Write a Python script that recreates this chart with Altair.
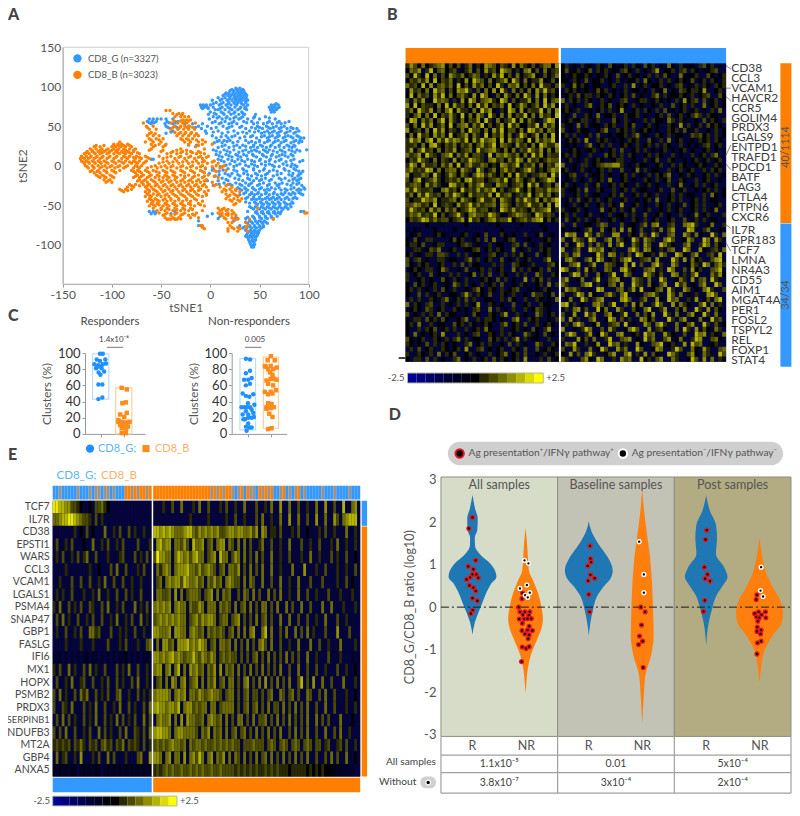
import altair as alt
import pandas as pd

FONT = "Lato"
BLUE, ORANGE = "#3399ff", "#ff8000"
PAL = ["#05053c", "#03032a", "#020216", "#000000", "#2a2a00", "#4a4a00", "#6b6b00", "#8f8f00", "#b5b500", "#e8e800"]
BAR = ["#000098", "#00007f", "#000068", "#000050", "#000038", "#000024", "#000012", "#000000",
       "#2a2a00", "#4a4a00", "#6b6b00", "#8f8f00", "#b5b500", "#dcdc00", "#ffff00"]

# ---------- A: tSNE, y value -> x values
G_rows = {98:[26,30],95:[20,24,28,31,34],92:[16,19,23,26,29,32,35],89:[13,18,21,25,28,31,34,37],86:[8,15,20,24,27,30,33,36],
83:[2,10,17,22,26,29,32,35,38],80:[6,13,19,24,28,31,36],77:[-10,-7,-4,0,9,16,21,27,34,38,62,65,69],74:[-9,-6,-3,3,12,18,25,31,36,60,63,66,70],
71:[5,8,15,22,28,37,61,64,67],68:[0,11,19,25,32,62,65],65:[-2,6,14,21,29,35,46],62:[3,9,17,26,33,45,56],
59:[-62,-58,-54,-50,-45,-38,-1,12,20,29,38,50,66],56:[-64,-59,-55,-44,-36,-33,5,15,24,34,42,60,70,80],53:[-60,-46,-38,-26,-18,-8,9,19,27,44,54,63,72],
50:[-45,-36,-22,-12,-3,13,22,32,48,57,67,75],47:[-41,-32,-9,1,17,36,46,53,61,70,78,84,88],44:[-38,-5,8,24,40,49,58,65,72,81,90],
41:[-45,-4,12,28,37,52,60,68,76,85],38:[2,16,25,43,55,63,70,79,88],35:[6,18,30,47,58,66,74,84,92,95],32:[9,14,20,36,50,60,69,77,87,91],
29:[4,12,23,39,46,55,64,72,82,90],26:[-22,-14,15,27,33,44,51,62,70,78,85],23:[8,19,30,41,48,57,66,75,83],20:[3,14,24,36,45,54,60,71,80,88,98],
17:[10,20,29,39,50,58,68,76,86],14:[6,16,26,34,43,53,63,73,82],11:[12,22,31,47,57,67,79],8:[-60,-58,8,18,28,38,51,61,72,85],
5:[14,25,35,45,56,66,77,91],2:[20,30,42,52,60,74,83],-1:[10,24,39,48,65,70,82,88],-4:[-5,3,18,33,44,55,75,85],-7:[9,27,37,50,60,68,80,90,94],
-10:[-1,15,22,34,46,58,72,84,92],-13:[5,20,30,42,52,64,83,89],-16:[12,25,38,47,56,70,76,86,92],-19:[-3,8,18,33,44,50,60,80,88],
-22:[14,26,36,42,54,66,73,84,90],-25:[3,22,32,39,48,58,68,82,93],-28:[28,35,43,52,62,70,85,95],-31:[32,38,46,55,60,72,78,88,92],
-34:[36,42,49,57,65,76,84,90],-37:[30,40,45,52,60,68,74,82,94],-40:[38,44,50,58,64,70,78,86],-43:[42,47,53,60,66,72,80],
-46:[36,45,51,57,63,69,75,83],-49:[48,54,60,66,71,78,81],-52:[40,46,52,58,64,70,76,82],-55:[44,50,56,62,68,74,79],
-58:[-62,-58,-55,-36,38,47,53,59,65,72,92,95],-61:[-60,-56,-40,2,48,54,60,66,71],-64:[-3,10,43,50,56,62,68],-67:[8,28,36,45,52,58,64],
-70:[-12,24,40,46,50,55],-73:[38,43,48,53,58],-76:[-12,-10,30,40,45,50,54],-79:[33,37,42,47,52],-82:[36,41,45,50],-85:[38,42,46,49],
-88:[37,41,44,48],-91:[38,42,46],-94:[39,43,46],-97:[40,44],-100:[41,45],-103:[42,44]}
G_rows2 = {96.5:[22,27,33],90.5:[15,23,30,36],84.5:[12,19,25,31,37],78.5:[3,11,18,25,32,67],72.5:[-8,-2,10,20,30,35,63,68],66.5:[4,13,24,33],60.5:[7,16,24,31,44,60],
54.5:[-62,-57,-42,-35,2,11,22,37,48,58,68,76],48.5:[-43,-34,-15,6,19,30,42,50,59,64,72,82],42.5:[-40,3,18,33,45,55,63,70,78,87],36.5:[11,22,35,41,52,60,68,76,82,90],
30.5:[7,17,28,42,50,58,66,75,85,93],24.5:[12,24,36,44,53,61,70,80,86],18.5:[6,17,33,42,47,56,64,73,83,91],12.5:[9,19,28,37,44,54,62,70,76,84],6.5:[11,22,32,42,50,60,70,82,94],
0.5:[16,27,36,45,56,63,78,86],-5.5:[2,13,24,34,44,54,64,76,87],-11.5:[9,18,28,38,48,56,68,80,90],-17.5:[16,29,40,52,62,72,84,90],-23.5:[9,20,30,40,50,60,70,78,88],
-29.5:[30,36,44,50,58,66,76,82,90,96],-35.5:[34,42,48,56,64,72,80,86,92],-41.5:[36,44,50,56,62,68,76,84,88],-47.5:[40,46,52,58,64,70,76,84],-53.5:[42,48,54,60,66,72,78],
-59.5:[46,52,58,64,69],-65.5:[26,38,44,50,56,62],-71.5:[36,42,47,52,56],-77.5:[35,40,45,50,54],-83.5:[39,44,48],-89.5:[36,40,44,47],-95.5:[42,45],-101.5:[43]}
B_rows = {70:[-45,-41],66:[-38,-32,-28],62:[-36,-30,-26,-22],58:[-28,-24,-20],54:[-68,-40,-33,-28,-24,-15],50:[-65,-58,-36,-30,-26,-21],
46:[-62,-55,-40,-33,-27,-22,-16],42:[-60,-36,-30,-25,-19],38:[-64,-58,-52,-34,-28,-22,-16,-12],34:[-62,-55,-48,-30,-24,-18],
30:[-92,-66,-58,-50,-26,-20,-12,-5],27:[-98,-94,-90,-84,-60,-52,-45,-22,-8,2],24:[-118,-112,-100,-96,-91,-86,-80,-58,-48,-15],
21:[-122,-116,-110,-104,-98,-93,-88,-82,-76,-60,-30,-6],18:[-125,-120,-114,-108,-102,-96,-90,-84,-78,-50,-38,-28,-20,-12],
15:[-128,-123,-117,-112,-105,-98,-92,-86,-80,-72,-44,-34,-24,-14,-6],12:[-131,-126,-121,-115,-109,-102,-95,-88,-82,-75,-66,-52,-40,-30,-20,-10,-2],
9:[-132,-128,-124,-118,-112,-105,-98,-90,-84,-76,-70,-62,-48,-36,-26,-16,-8],6:[-131,-126,-120,-114,-108,-100,-93,-86,-78,-72,-65,-44,-34,-24,-14,-6,4],
3:[-128,-123,-117,-111,-104,-96,-88,-80,-74,-68,-52,-42,-32,-22,-12,-3,8],0:[-127,-120,-114,-107,-100,-92,-84,-76,-70,-56,-46,-38,-28,-18,-8,6,14],
-3:[-124,-118,-112,-105,-97,-88,-78,-72,-64,-54,-44,-34,-24,-14,-5,10],-6:[-120,-114,-108,-100,-92,-80,-74,-66,-58,-48,-40,-30,-20,-10,4,16],
-9:[-118,-112,-105,-96,-76,-70,-62,-52,-44,-36,-26,-16,-6],-12:[-116,-110,-102,-74,-68,-60,-54,-46,-38,-30,-22,-12,-2],
-15:[-112,-106,-98,-78,-72,-64,-56,-48,-42,-34,-26,-18,-8,8],-18:[-108,-102,-72,-66,-60,-52,-44,-36,-28,-20,-12,-4],
-21:[-106,-100,-70,-64,-56,-50,-42,-34,-26,-18,-10,2],-24:[-82,-76,-68,-62,-54,-46,-38,-30,-22,-14,-6,6,18],
-27:[-84,-78,-66,-60,-52,-44,-36,-28,-20,-12,-4,10,22],-30:[-92,-86,-80,-64,-58,-50,-42,-34,-26,-18,-10,14,20,26],
-33:[-88,-66,-62,-54,-48,-40,-32,-24,-16,-6,12,22,30],-36:[-64,-58,-52,-44,-38,-30,-22,-14,-4,16,24],-39:[-66,-60,-50,-42,-34,-26,-18,-8,18,28],
-42:[-62,-56,-46,-40,-32,-24,-16,16,24,32],-45:[-64,-58,-52,-44,-36,-28,-20,-8,22,30],-48:[-60,-54,-46,-38,-30,-22,-12,26],
-51:[-62,-56,-48,-42,-34,-26,-16,-6],-54:[-58,-50,-44,-36,-28,-20,8,14,48],-57:[-54,-46,-38,-30,-22,-8,10,16,22],
-60:[-52,-44,-34,-26,-14,8,12,18,24,96,98],-63:[-48,-40,-30,-22,-16,12,18,26],-66:[-46,-38,-32,-20,-12,14,22],-68:[-44,-40,-36,-34,26,40,64],
-72:[18,22,36],-76:[-10,-8,20,38],-80:[-6,18,24,30],-83:[18,28,38]}
B_rows2 = {64.5:[-34,-29],56.5:[-37,-30,-26,-22],48.5:[-64,-38,-31,-24,-18],40.5:[-62,-56,-32,-26,-20,-14],32.5:[-60,-52,-28,-22,-14,-8],25.5:[-116,-108,-98,-93,-88,-82,-56,-46,-12],
19.5:[-120,-112,-106,-100,-95,-86,-78,-62,-48,-34,-24],16.5:[-126,-118,-110,-103,-94,-88,-82,-74,-40,-30,-18,-10],10.5:[-130,-122,-116,-110,-103,-96,-86,-78,-72,-64,-44,-32,-22,-12,-4],
4.5:[-129,-124,-118,-112,-106,-98,-90,-82,-76,-66,-48,-38,-28,-18,-8,2],-1.5:[-125,-119,-110,-102,-94,-86,-74,-60,-50,-40,-30,-20,-10,2,12],-7.5:[-122,-115,-106,-98,-78,-72,-64,-55,-46,-38,-28,-18,-8,6],
-13.5:[-114,-108,-100,-76,-70,-62,-52,-44,-36,-26,-16,-6,4],-19.5:[-104,-74,-68,-58,-48,-40,-30,-22,-14,-6],-25.5:[-80,-72,-64,-56,-48,-40,-32,-24,-16,-8,4,16],
-31.5:[-90,-84,-62,-56,-46,-38,-28,-20,-12,-2,16,26],-37.5:[-62,-54,-46,-36,-28,-20,-12,-4,20,26],-43.5:[-60,-54,-48,-40,-32,-24,-14,20,28],-49.5:[-58,-52,-44,-36,-28,-20,-10,24],
-55.5:[-50,-42,-34,-26,-18,12,18],-61.5:[-46,-36,-28,-18,10,16,22],-67.5:[-42,-36,-30,16,24,28],-78.5:[-8,22,28,36]}

# ---------- B heatmap
B_genes = ["CD38","CCL3","VCAM1","HAVCR2","CCR5","GOLIM4","PRDX3","LGALS9","ENTPD1","TRAFD1","PDCD1","BATF","LAG3","CTLA4","PTPN6","CXCR6",
           "IL7R","GPR183","TCF7","LMNA","NR4A3","CD55","AIM1","MGAT4A","PER1","FOSL2","TSPYL2","REL","FOXP1","STAT4"]
B_left = [
"475163456735351461437652541736425146637","365704815634503461527453865142673516245","518428360517546346514274835162457315246","354647183546142738651624573851624473152",
"645283715646283517463528416573526184425","174536285615376840516273840615263748452","382645174826356417286305174263850716243","506471385650417386256743861524473618256",
"728354416283745162847354618247534618472","463854725168374426185730428617354482617","435726183547428163750842617354826174538","287164635827416354728416345827164305872",
"536284714638256716483524718463254817463","724516384725416385526174835526187463652","163845274618345726418354726148534726183","485726837485764837485672837465283746582",
"445163784354615463574582654174536286447","471584536254734561845674263605485471636","645738541568264735540816575463618472544","254854163540725486541674536486174534655",
"486174452647381574465342764581546263547","574548716356627540851463574524685143576","734465184247536415874642537384514466284","516824574345462784551456483475346245871",
"456537464128745364684417552456384714526","748544512674538454746582514584362554756","462748545164864374554728456145483574624","534486572445617543584462754164854736468",
"557645381454274584645561764354584462718","485452746164634587455241864745436456824","465745483514584267554864314576542864541","354587464552457184534674558245646783514",
"000003000100000300000103000003000031000","103100030000300100001000300010001003000","031400034310003401305000430300400350130","305304400003534003405160034500130003410",
"344350034400034540300403300450503041300","004403546003400334503404300603040043400","340304405540040403300453040405300503400","504503004403300460403400503040340004700",
"530434003400405043300040400543304000453","034304403640030500340403400604043340503","403400503004040036040500430040400640043","400340300530430400034305040300704350400",
"305340340030640403040340500304300340604","340403040530400304630430403450030304300","300504034003304740430500430400306440350","040400430460340504003300405300400430306",
"604304500403040403700430300500340043300","034305403400430304500604030400403540300","503040406043300305300430470040300640340","304405340530034600404430300570043400304",
"340600403300534043034300460340500403430","300404350340400403406300400340305304700","306030340700040304500430404300640305030","530340043040460403300534040470403300400",
"430305040430300460340400305040300640043","040503400430340700450303400430500503430","400430406043500340300403460340500304034","304405040300460304034050430340700040503"]
B_right = [
"340304130430531340431534030630413304534010","351340350434031453040304703340450430134500","303433430314305034130340405300613340053034","330430503340304103340630140403431503404314",
"403634303300340040703403340304503140430434","043430303534030140330304136030543443700340","034053440431430340503014604133430403450053","604340430140300450134403430304073450503403",
"140300460143503430403003040050340400603403","343040130340403700340430405130340340304060","030500430603340043340300340503403464043300","034134403400053040300404331640430030514304",
"413060413304340043500340300430704034053430","503043300346004340403430300434053140030403","340400340500303340460300430403300545340403","034340700434030304340053040603401304340430",
"030300460340400343040340404300403030450340","003430134030340500340403034030340300340301","340431040005340404300340430040300403404600","034030403430134400300403500430030340340340",
"600304403456677403043300340140430134300430","340304030340400500360403300403403400404340","034500403340300340403040434600304300340403","030403040340600340300430403500430040340030",
"340300403500340430140340300403600340403400","403340600430040340403300340050340030340403","400340403300340500340430400340403300406303","034050340403400340030340600340400340403300",
"030403400340430700340300430403050340400340","403340300060340403500340030403400340403600","340400340030403340400500340300403060340004","050340403400340300430403400340050340403300",
"400500330465000503304606700450067840036004","303030460060350706305004060570008700460030","086700850640077004306408500560075063008406","600754086005706430850754006850037500860740",
"053086050640705800640750086430057004860530","700460086570340006850763040560086007304506","450670003850760405086304075008630570045080","067400570860340578004560730085070634005780",
"305680047006543070805006840075003640860574","860050734006500784300567040860050734005680","004870500630480075000864350076040580006473","570036004800567300754060085003640705608400",
"640005780403560700854063057008460305700850","075640030870005604708003560840075030684005","500486073005740680030567400850603040078500","036008504670030785004600730856004070350680",
"780403006750480050736004850070643005806040","040670500836007400530680047005360084070530","503700846005730480060537008406005730840600","607040057003860504007635000840570306008450",
"040685003700456080300750684006035700840503","700304860050740036850070453006084070530640","058600470385006700340856007430050086704306","400073506004800567030846005703600487005630",
"065800403700856040073005680340070856003400","500740060385007460085003760048500630740056","307050684003570068040705300864005730640085","640005730860040756008340570064003850706040"]

# ---------- E heatmap
E_genes = ["TCF7","IL7R","CD38","EPSTI1","WARS","CCL3","VCAM1","LGALS1","PSMA4","SNAP47","GBP1","FASLG","IFI6","MX1","HOPX","PSMB2","PRDX3","SERPINB1","NDUFB3","MT2A","GBP4","ANXA5"]
E_sizes = [10.5] * 17 + [9.3] + [10.5] * 4
E_left = [
"998877554300305564300000000000000","667889987655405040000000000000000","000000040305030006004050050400400","050040500030060040500405000050004",
"040500405046005000400045000504050","000040000000400300050600500040500","004000500500500406005005004004000","040400500040040600400500504005000",
"406005040500540050600405000604050","050604005004050050040600405006040","040050040500664500050040400500400","000040000400040000500040500040056",
"111010101012011010101011201010110","405006040050604005000504060050040","050040600450050040500504005060040","506040050646005040500560040050404",
"500540600050406005004060050400506","050605040050406005040605040500605","505060050040500605040050600540506","454545054640545056450546054540504",
"060450040700040500605000400056007","212121220121212201212121212121212"]
E_right = [
"000400500600040600500040500400600050040600700600500400600700500800670",
"000000000000400000400000400500400050600400600700600500700600750678880",
"887878766678865767676755677677667570760440500040500300040500400060040",
"078677066575086670560677065060605004600500400600050040050004060040040",
"597766068767578660567086605760605060500600400500040060040005040050030",
"064676067778665756765056066570506050600600400060007000400500040040050",
"056067677587667560657560676550606500600500600400600050005000040050300",
"066556070605666505670606560050650605006050600400600500400050004000400",
"676767067660655760666065650605606050660506006050060050006006000400040",
"567676767660567576776056605670505060560500600600500500400600050040000",
"776667077660676560656565056060606700680600506006050604000500070005000",
"060775607778676876056066560605060506750600500400600060050040006000040",
"776767867656686576576056565505050560506050506050500600400050004000101",
"677067068060767560657070656060506050605050600500600500500400050040030",
"056060760670567060657056066050670506070506050600580507006005000600040",
"677776067670665765676650566050560550505600650560500650050600500040030",
"787767768067756566066056666050560560506055060506050600500600500040040",
"067667060707665560676560605066050605560506050605050600605050006000300",
"788776067766665065706560605605605060506050600506050600500600506004000",
"565656766560656656556565656550555655505650565056505650550450045050040",
"776067066070675860670657060650605060560605060506050600500506050060030",
"454565655655656565565565555454545454454545444344444343434333212111100"]
E_top_left = "bbmbbbbbmbbbmbmmbmmbmbbboomomoomo"
E_top_right = "ooooooooooooooooooomomomoombmobommbomomobbmobmbmobmbbbbbmbbbmbbbbmbbb"
TOP_COL = {"b": BLUE, "o": ORANGE, "m": "#9c9288"}

# ---------- C clusters
C1_Gx = [.65,.77,.51,.88,.65,.41,.58,.77,.91,.51,.70,.59,.83,.67,.58,.75,.58,.75,.48,.72]
C1_Gy = [99,99,92,92,90,86,85,86,87,82,83,76,77,73,61,61,43,45,81,81]
C1_Bx = [1.59,1.81,1.62,1.77,1.52,1.81,1.70,1.45,1.57,1.70,1.81,1.93,1.52,1.70,1.86,1.59,1.78,1.59,1.77,1.45]
C1_By = [57,55,38,39,24,26,21,17,15,14,14,15,11,10,9,7,6,1,1,15]
C2_Gx = [.62,.80,.80,.62,.54,.72,.87,.80,.62,.48,.62,.77,.94,.71,.55,.43,.67,.80,.99,.87,.48,.72,.94,.58,.72,.87,.97,.51,.72,.62,.77,.87,.65,.62]
C2_Gy = [93,92,78,75,67,67,69,62,60,50,47,46,49,38,33,33,33,33,36,30,24,24,26,18,20,20,21,18,13,9,8,8,4,28]
C2_Bx = [1.71,1.57,1.88,1.45,1.70,1.96,1.59,1.81,1.67,1.78,1.52,1.70,1.84,1.96,1.59,1.81,1.45,1.70,1.93,1.59,1.78,1.59,1.74,1.52,1.70,1.84,1.64,1.78,1.74,1.59,1.52,1.48]
C2_By = [96,91,91,84,84,82,80,80,76,73,66,68,68,67,62,60,52,52,54,49,50,38,37,33,32,33,25,21,7,6,31,83]

# ---------- D violins: centre, colour, levels, half widths
V_BLUE, V_OR = "#1f77b4", "#ff7f0e"
VIOLINS = [
 (.27,  V_BLUE,[2.64,2.32,2.09,1.82,1.63,1.44,1.25,1.02,.83,.71,.56,.33,.10,-.13,-.36,-.65],[0,.022,.045,.042,.02,.022,.062,.154,.197,.205,.163,.118,.084,.05,.02,0]),
 (.725, V_OR,  [1.86,1.56,1.17,.87,.64,.33,.02,-.28,-.51,-.82,-1.13,-1.43,-1.74,-2.03],[0,.011,.02,.028,.062,.107,.135,.149,.135,.09,.045,.02,.008,0]),
 (1.267,V_BLUE,[2.02,1.79,1.48,1.17,.87,.67,.48,.25,-.05,-.36,-.68],[0,.022,.084,.163,.205,.185,.126,.07,.037,.014,0]),
 (1.725,V_OR,  [2.78,2.32,1.79,1.17,.56,-.05,-.67,-1.13,-1.59,-2.2,-2.74],[0,.014,.037,.067,.084,.093,.098,.076,.028,.011,0]),
 (2.273,V_BLUE,[2.63,2.25,1.94,1.63,1.25,.94,.71,.52,.25,-.05,-.36,-.9],[0,.034,.084,.093,.084,.154,.183,.146,.084,.05,.022,0]),
 (2.73, V_OR,  [1.63,1.25,.87,.48,.18,-.13,-.36,-.67,-1.05,-1.43,-1.78],[0,.02,.05,.112,.174,.202,.191,.112,.039,.014,0]),
]
D_red_x = [.27,.239,.298,.233,.278,.27,.303,.32,.25,.219,.244,.278,.298,.27,.312,.272,.256,
 .699,.694,.666,.677,.719,.761,.702,.753,.671,.713,.742,.775,.697,.756,.694,.742,.784,.719,.756,.747,.697,.73,.756,.691,
 1.278,1.281,1.287,1.258,1.281,1.317,1.261,1.267,1.275,1.713,1.75,1.719,1.702,1.728,1.694,1.733,
 2.278,2.267,2.258,2.284,2.264,2.306,2.261,2.25,
 2.708,2.702,2.722,2.781,2.688,2.747,2.705,2.728,2.784,2.716,2.711,2.744,2.708,2.739,2.744,2.713,2.708]
D_red_y = [2.11,1.85,1.10,.96,.89,.77,.77,.69,.70,.65,.51,.46,.38,.21,.15,-.07,-.15,
 .33,.20,0,-.11,-.11,-.11,-.18,-.19,-.28,-.28,-.27,-.27,-.38,-.45,-.55,-.54,-.55,-.63,-.65,-.74,-.94,-.97,-.93,-1.28,
 1.44,1.14,1.06,.97,.76,.68,.62,.30,-.11,0,-.11,-.42,-.68,-.80,-.88,-1.42,
 1.81,1.59,.94,.77,.67,.61,.16,-.10,
 .29,.18,-.11,-.11,-.15,-.18,-.23,-.25,-.25,-.33,-.47,-.54,-.57,-.63,-.80,-.84,-1.10]
D_white_x = [.716,.75,.736,.677,.761,.722,.744,1.699,1.739,1.739,2.744,2.739,2.761]
D_white_y = [1.10,1.03,.52,.44,.34,.28,.23,1.54,.77,.34,.94,.39,.25]
D_panels = ["All samples","Baseline samples","Post samples"]
D_bg = ["#d6dcc8","#c3c3b5","#b3ac82"]
D_p1 = ["1.1x10⁻⁵","0.01","5x10⁻⁴"]
D_p2 = ["3.8x10⁻⁷","3x10⁻⁴","2x10⁻⁴"]
D_groups = [.27,.733,1.267,1.727,2.273,2.733]
D_group_labels = ["R","NR","R","NR","R","NR"]

# ---------- helpers: page px -> view px (the right column and lower rows are eased in so all fits)
W, H = 784, 800
def PX(v):
    return v - 8 if v <= 380 else 372 + (v - 380) * (411 / 418)

def PY(v):
    return v - 8 if v <= 430 else 422 + (v - 430) * .979

def sX(dom, rng, axis=None, f="x"):
    return alt.X(f"{f}:Q", scale=alt.Scale(domain=dom, range=[PX(rng[0]), PX(rng[1])], nice=False, zero=False), axis=axis, title=None)

def sY(dom, rng, axis=None, f="y"):
    return alt.Y(f"{f}:Q", scale=alt.Scale(domain=dom, range=[PY(rng[0]), PY(rng[1])], nice=False, zero=False), axis=axis, title=None)

def label(t, x, y, size=11, color="#555555", align="left", angle=None, weight="normal"):
    kw = dict(align=align, baseline="middle", fontSize=size, font=FONT, color=color, fontWeight=weight)
    if angle is not None:
        kw["angle"] = angle
    return alt.Chart(pd.DataFrame({"t": [t]})).mark_text(**kw).encode(x=alt.value(PX(x)), y=alt.value(PY(y)), text="t:N")

def rects(df, X, Y, **mk):
    return alt.Chart(df).mark_rect(**mk).encode(x=X, x2=alt.X2("x2"), y=Y, y2=alt.Y2("y2"), color=alt.Color("c:N", scale=None))

def box(x, x2, y, y2, c):
    return pd.DataFrame({"x": x, "x2": x2, "y": y, "y2": y2, "c": c})

def heat(rows, x0, n, rh=1.0):
    recs = []
    for i, s in enumerate(rows):
        for j, ch in enumerate(s[:n]):
            recs.append({"x": x0 + j, "x2": x0 + j + 1, "y": i * rh, "y2": (i + 1) * rh, "c": PAL[int(ch)]})
    return pd.DataFrame(recs)

def colorbar(x0, x1, y0, y1):
    d = pd.DataFrame({"x": range(15), "x2": range(1, 16), "y": [0] * 15, "y2": [1] * 15, "c": BAR})
    X = sX([0, 15], [x0, x1]); Y = sY([0, 1], [y1, y0])
    fr = alt.Chart(box([0], [15], [0], [1], ["#000"])).mark_rect(fillOpacity=0, stroke="#b5b5a0", strokeWidth=1).encode(x=X, x2=alt.X2("x2"), y=Y, y2=alt.Y2("y2"))
    return alt.layer(rects(d, X, Y), fr)

def ax(orient, offset, **kw):
    base = dict(orient=orient, offset=offset, grid=False, labelFont=FONT, titleFont=FONT, labelColor="#555555", titleColor="#555555",
                domainColor="#999999", tickColor="#999999", labelExpr="''+datum.value", labelOverlap=False, labelFlush=False, titleFontWeight="normal")
    base.update(kw)
    return alt.Axis(**base)

def axes_only(dx, rx, dy, ry, xaxis, yaxis):
    d = pd.DataFrame({"x": [dx[0]], "y": [dy[0]]})
    return alt.Chart(d).mark_point(opacity=0).encode(x=sX(dx, rx, xaxis), y=sY(dy, ry, yaxis))

# ---------- panel A
def rows_df(*rows):
    return pd.DataFrame([{"x": x, "y": y} for r in rows for y, xs in r.items() for x in xs])

Ax = [62.7, 308.7]; Ay = [284, 47.3]; Adx = [-150, 100]; Ady = [-150, 150]
axesA = axes_only(Adx, Ax, Ady, Ay,
    ax("bottom", PY(284) - H, values=[-150, -100, -50, 0, 50, 100], labelFontSize=12, tickSize=3, title="tSNE1", titleFontSize=12, titlePadding=2),
    ax("left", -PX(62.7), values=[-100, -50, 0, 50, 100, 150], labelFontSize=12, tickSize=0, labelPadding=2, title="tSNE2", titleFontSize=12, titlePadding=6))
panelA = alt.layer(
    alt.Chart(box([-150], [100], [-150], [150], ["#000"])).mark_rect(fillOpacity=0, stroke="#d0d0d0").encode(
        x=sX(Adx, Ax), x2=alt.X2("x2"), y=sY(Ady, Ay), y2=alt.Y2("y2")),
    alt.Chart(rows_df(G_rows, G_rows2)).mark_circle(size=12, opacity=1, color=BLUE).encode(x=sX(Adx, Ax), y=sY(Ady, Ay)),
    alt.Chart(rows_df(B_rows, B_rows2)).mark_circle(size=12, opacity=1, color=ORANGE).encode(x=sX(Adx, Ax), y=sY(Ady, Ay)),
    alt.Chart(pd.DataFrame({"x": [-135, -135], "y": [136, 115], "c": [BLUE, ORANGE]})).mark_circle(size=70, opacity=1).encode(
        x=sX(Adx, Ax), y=sY(Ady, Ay), color=alt.Color("c:N", scale=None)),
)

# ---------- panel B
Bx = [406, 732]; By = [63.3, 361.7]; Bdx = [0, 81.5]; Bdy = [0, 30]
X_b, Y_b = sX(Bdx, Bx), sY(Bdy, By)
leaders = pd.DataFrame({"x": [81.4] * 7, "x2": [82.7] * 7,
                        "y": [.2, 2.5, 3.3, 9.3, 10.1, 16.2, 18.0], "y2": [.6, 2.5, 3.8, 8.2, 10.7, 16.6, 18.9]})
b_genes = pd.DataFrame({"g": B_genes, "y": [i + (.45 if i < 16 else .8) for i in range(30)], "x": [82.8] * 30})
panelB = alt.layer(
    rects(box([0], [81.5], [0], [30], [PAL[0]]), X_b, Y_b),
    rects(heat(B_left, 0, 39, .5), X_b, Y_b),
    rects(heat(B_right, 39.5, 42, .5), X_b, Y_b),
    rects(box([39], [39.5], [0], [30], ["#ffffff"]), X_b, Y_b),
    rects(box([0, 39.5], [38.9, 81.5], [-1.55, -1.55], [0, 0], [ORANGE, BLUE]), X_b, Y_b),
    alt.Chart(b_genes).mark_text(align="left", baseline="middle", fontSize=12, font=FONT, color="#3c3c3c").encode(x=X_b, y=Y_b, text="g:N"),
    alt.Chart(leaders).mark_rule(color="#555555", strokeWidth=.7).encode(x=X_b, x2=alt.X2("x2"), y=Y_b, y2=alt.Y2("y2")),
    rects(box([95.3, 95.3], [98.1, 98.1], [0, 16.1], [16.05, 30.5], [ORANGE, BLUE]), X_b, Y_b),
)

# ---------- panel C
def c_panel(rx, dom, gx, gy, bx, by, boxes, rule):
    top, bottom = 353, 434
    X, Y = sX(dom, rx), sY([0, 100], [bottom, top])
    ls = []
    for a, b, lo, hi, m, stroke in boxes:
        ls.append(alt.Chart(box([a], [b], [lo], [hi], [stroke])).mark_rect(fillOpacity=0, strokeWidth=1.2, stroke=stroke).encode(
            x=X, x2=alt.X2("x2"), y=Y, y2=alt.Y2("y2")))
        ls.append(alt.Chart(pd.DataFrame({"x": [a], "x2": [b], "y": [m]})).mark_rule(color=stroke, strokeWidth=1).encode(x=X, x2=alt.X2("x2"), y=Y))
    ls.append(alt.Chart(pd.DataFrame({"x": gx, "y": gy})).mark_circle(size=20, opacity=1, color="#1e90ff").encode(x=X, y=Y))
    ls.append(alt.Chart(pd.DataFrame({"x": bx, "y": by})).mark_square(size=20, opacity=1, color="#ff8c1a").encode(x=X, y=Y))
    ls.append(alt.Chart(pd.DataFrame({"x": [rule[0]], "x2": [rule[1]], "y": [107]})).mark_rule(color="#555555", strokeWidth=.8).encode(x=X, x2=alt.X2("x2"), y=Y))
    xa = ax("bottom", PY(bottom) - H, values=[.7, 1.7], labels=False, tickSize=3)
    ya = ax("left", -PX(rx[0]), values=[0, 20, 40, 60, 80, 100], labelFontSize=13, labelColor="#333333", tickSize=3,
            title="Clusters (%)", titleFontSize=12, titlePadding=4)
    return alt.layer(*ls), axes_only(dom, rx, [0, 100], [bottom, top], xa, ya)

LB, LO = "#bcdcf8", "#fbd0a0"
panelC1, axesC1 = c_panel([85, 145], [0, 2.6], C1_Gx, C1_Gy, C1_Bx, C1_By,
                  [(.33, 1.03, 43, 99, 85, LB), (1.33, 2.03, 0, 57, 15, LO)], (.95, 1.65))
panelC2, axesC2 = c_panel([231.7, 286.7], [0, 2.4], C2_Gx, C2_Gy, C2_Bx, C2_By,
                  [(.36, 1.04, 5, 93, 33, LB), (1.38, 2.04, 7, 95, 67, LO)], (.58, 1.3))

# ---------- panel E
Ex = [52.7, 360.2]; Ey = [502.3, 784]; Edx = [0, 102.5]; Edy = [0, 22]
X_e, Y_e = sX(Edx, Ex), sY(Edy, Ey)
top_l = pd.DataFrame({"x": range(33), "x2": range(1, 34), "y": [-1.2] * 33, "y2": [-.1] * 33, "c": [TOP_COL[k] for k in E_top_left]})
top_r = pd.DataFrame({"x": [33.5 + i for i in range(69)], "x2": [34.5 + i for i in range(69)], "y": [-1.2] * 69, "y2": [-.1] * 69, "c": [TOP_COL[k] for k in E_top_right]})
e_genes = pd.DataFrame({"g": E_genes, "y": [i + .5 for i in range(22)], "fs": E_sizes})
panelE = alt.layer(
    rects(box([0], [102.5], [0], [22], [PAL[0]]), X_e, Y_e),
    rects(heat(E_left, 0, 33), X_e, Y_e),
    rects(heat(E_right, 33.5, 69), X_e, Y_e),
    rects(box([33], [33.5], [0], [22], ["#ffffff"]), X_e, Y_e),
    rects(top_l, X_e, Y_e), rects(top_r, X_e, Y_e),
    rects(box([0, 33.5], [33, 102.5], [22.1, 22.1], [23.25, 23.25], [BLUE, ORANGE]), X_e, Y_e),
    rects(box([103, 103], [104.8, 104.8], [0, 2.05], [2, 22], [BLUE, ORANGE]), X_e, Y_e),
    alt.Chart(e_genes).mark_text(align="right", baseline="middle", font=FONT, color="#4a4a4a", dx=-3).encode(
        x=alt.value(PX(52.7)), y=Y_e, text="g:N", size=alt.Size("fs:Q", scale=None)),
)

# ---------- panel D
Dx = [442, 798]; Dy = [743, 478]; Ddx = [0, 3]; Ddy = [-3.04, 3.06]
X_d, Y_d = sX(Ddx, Dx), sY(Ddy, Dy)
axesD = axes_only(Ddx, Dx, Ddy, Dy, None,
    ax("left", -PX(442), values=[-3, -2, -1, 0, 1, 2, 3], labelFontSize=13, tickSize=0, domain=False, labelPadding=5,
       title="CD8_G/CD8_B ratio (log10)", titleFontSize=12.5, titlePadding=7))
d_layers = [alt.Chart(box([0, 1, 2], [1, 2, 3], [-3.04] * 3, [3.06] * 3, D_bg)).mark_rect(stroke="#8f8f80", strokeWidth=1).encode(
    x=X_d, x2=alt.X2("x2"), y=Y_d, y2=alt.Y2("y2"), color=alt.Color("c:N", scale=None))]
d_layers.append(alt.Chart(pd.DataFrame({"x": [.5, 1.5, 2.5], "t": D_panels, "yy": [2.86] * 3})).mark_text(
    fontSize=12.5, font=FONT, color="#555555").encode(x=X_d, y=sY(Ddy, Dy, None, "yy"), text="t:N"))
for cx, col, ys, hw in VIOLINS:
    d = pd.DataFrame({"y": ys, "x": [cx - w for w in hw], "x2": [cx + w for w in hw]})
    d_layers.append(alt.Chart(d).mark_area(orient="horizontal", interpolate="monotone", color=col, opacity=1).encode(y=Y_d, x=X_d, x2=alt.X2("x2")))
d_layers.append(alt.Chart(pd.DataFrame({"x": [0], "x2": [3], "y": [0]})).mark_rule(color="#1a1a1a", strokeWidth=1, strokeDash=[8, 3, 2, 3]).encode(x=X_d, x2=alt.X2("x2"), y=Y_d))
d_layers.append(alt.Chart(pd.DataFrame({"x": D_red_x, "y": D_red_y})).mark_point(filled=True, size=14, color="#000000", stroke="#e8141c", strokeWidth=1.4, opacity=1, fillOpacity=1).encode(x=X_d, y=Y_d))
d_layers.append(alt.Chart(pd.DataFrame({"x": D_white_x, "y": D_white_y})).mark_point(filled=True, size=14, color="#000000", stroke="#ffffff", strokeWidth=1.4, opacity=1, fillOpacity=1).encode(x=X_d, y=Y_d))
for yy in [762, 780, 801]:
    d_layers.append(alt.Chart(pd.DataFrame({"x": [0], "x2": [3]})).mark_rule(color="#a0a0a0", strokeWidth=1.2).encode(x=X_d, x2=alt.X2("x2"), y=alt.value(PY(yy))))
d_layers.append(alt.Chart(pd.DataFrame({"x": [0, 1, 2, 3]})).mark_rule(color="#a0a0a0", strokeWidth=1.2).encode(x=X_d, y=alt.value(PY(743)), y2=alt.value(PY(801))))
d_layers.append(alt.Chart(pd.DataFrame({"x": D_groups, "t": D_group_labels})).mark_text(fontSize=12.5, font=FONT, color="#555555").encode(x=X_d, y=alt.value(PY(752.5)), text="t:N"))
for vals, yy in [(D_p1, 771), (D_p2, 791)]:
    d_layers.append(alt.Chart(pd.DataFrame({"x": [.5, 1.5, 2.5], "t": vals})).mark_text(fontSize=10.5, font=FONT, color="#444444").encode(x=X_d, y=alt.value(PY(yy)), text="t:N"))
panelD = alt.layer(*d_layers)

# ---------- annotation
def pill(x0, x1, y0, y1, c, r):
    return alt.Chart(pd.DataFrame({"a": [1]})).mark_rect(color=c, cornerRadius=r).encode(
        x=alt.value(PX(x0)), x2=alt.value(PX(x1)), y=alt.value(PY(y0)), y2=alt.value(PY(y1)))

def chip(x, y, stroke, size=50, sw=2):
    return alt.Chart(pd.DataFrame({"a": [1]})).mark_point(filled=True, color="#000000", stroke=stroke, strokeWidth=sw, size=size, opacity=1, fillOpacity=1).encode(
        x=alt.value(PX(x)), y=alt.value(PY(y)))

def dot(mark, x, y, c, size):
    ch = alt.Chart(pd.DataFrame({"a": [1]}))
    m = ch.mark_circle(color=c, size=size, opacity=1) if mark == "c" else ch.mark_square(color=c, size=size, opacity=1)
    return m.encode(x=alt.value(PX(x)), y=alt.value(PY(y)))

LET = dict(size=16, color="#444444", weight=900)
notes = [
    label("A", 8, 15, **LET), label("B", 387, 15, **LET), label("C", 8, 316, **LET), label("D", 389, 415, **LET), label("E", 8, 456, **LET),
    label("CD8_G (n=3327)", 88, 58.5, 9.5), label("CD8_B (n=3023)", 88, 75, 9.5),
    label("40/1114", 793, 147, 10.5, "#555555", "center", 270), label("34/34", 793, 295, 10.5, "#555555", "center", 270),
    label("-2.5", 405, 378, 9.5, "#555555", "right"), label("+2.5", 549, 378, 9.5),
    label("Responders", 110, 322, 11.5, "#4a4a4a", "center"), label("Non-responders", 249, 322, 11.5, "#4a4a4a", "center"),
    label("1.4x10⁻⁶", 114, 340, 8, "#444444", "center"), label("0.005", 255, 340, 8, "#444444", "center"),
    dot("c", 90, 449, "#1e90ff", 70), label("CD8_G;", 98, 449, 11, "#5cb6ee"),
    dot("s", 146, 449, "#ff8c1a", 50), label("CD8_B", 155, 449, 11, "#f9b26c"),
    label("CD8_G;", 56.5, 477, 11.5, "#5cb6ee"), label("CD8_B", 101, 477, 11.5, "#f9b26c"),
    label("-2.5", 50, 809, 9.5, "#555555", "right"), label("+2.5", 180, 809, 9.5),
    pill(449, 790, 442, 466, "#cfcfcf", 12), chip(461, 454, "#e8141c", 70, 2),
    label("Ag presentation⁺/IFNγ pathway⁺", 470, 454, 10.2), chip(627, 454, "#ffffff", 70, 2),
    label("Ag presentation⁻/IFNγ pathway⁻", 636, 454, 10.2),
    label("All samples", 437, 769, 10.2, "#444444", "right"), label("Without", 417, 790, 10.2, "#444444", "right"),
    pill(421, 437, 784, 796, "#cfcfcf", 6), chip(429, 790, "#ffffff", 22, 1.2),
    alt.Chart(pd.DataFrame({"x": [1]})).mark_rule(color="#444444", strokeWidth=2).encode(x=alt.value(PX(399)), x2=alt.value(PX(406)), y=alt.value(PY(358))),
]

chart = alt.layer(
    panelA, axesA, panelB, colorbar(408, 546, 373, 383), panelC1, axesC1, panelC2, axesC2,
    panelE, colorbar(52.7, 177, 804, 814), panelD, axesD, *notes
).resolve_scale(x="independent", y="independent").properties(
    width=W, height=H, padding=0, autosize=alt.AutoSizeParams(type="none")
).configure_view(stroke=None)

chart.save("out.html", embed_options={"renderer": "svg", "actions": False})
